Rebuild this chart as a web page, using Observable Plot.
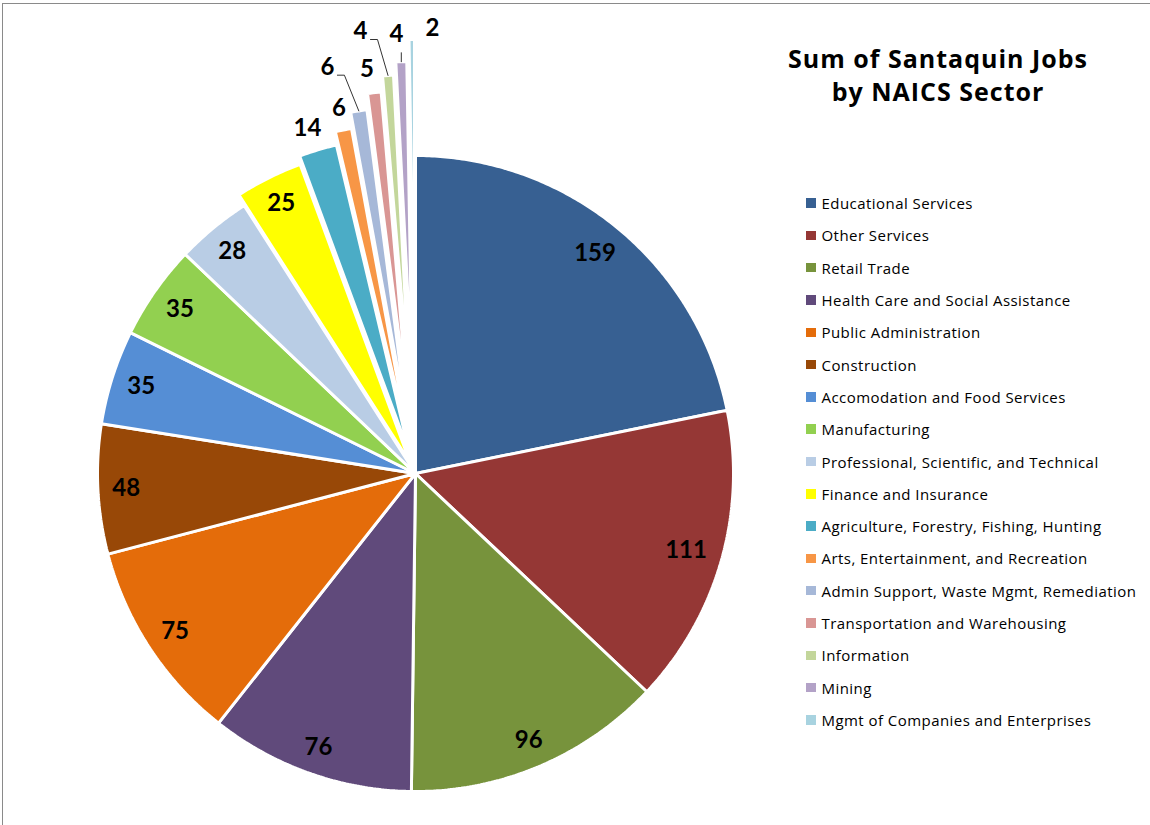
<!DOCTYPE html>
<html>
<head>
<meta charset="utf-8">
<script src="https://cdn.jsdelivr.net/npm/d3@7"></script>
<script src="https://cdn.jsdelivr.net/npm/@observablehq/plot@0.6"></script>
<style>
  html, body { margin: 0; padding: 0; background: #fff; overflow: hidden; }
  #wrap { position: relative; width: 1150px; height: 825px; overflow: hidden; font-family: Lato, "Open Sans", sans-serif; }
  #frame { position: absolute; left: 2px; top: 3px; width: 3000px; height: 3000px;
           border-top: 1.5px solid #8a8a8a; border-left: 1.5px solid #8a8a8a; box-sizing: border-box; }
  #chart { position: absolute; left: 0; top: 0; }
  #title { position: absolute; left: 738px; width: 400px; top: 42px; text-align: center;
           font-family: "Open Sans", sans-serif; letter-spacing: 1px;
           font-weight: 700; font-size: 25px; line-height: 33px; color: #000; }
  #legend { position: absolute; left: 806px; top: 187px; font-family: "Open Sans", sans-serif; }
  .item { display: flex; align-items: center; height: 32.31px; font-size: 15px; letter-spacing: 0.45px; color: #000; white-space: nowrap; }
  .sw { width: 9.5px; height: 9.5px; margin-right: 6px; flex: none; }
</style>
</head>
<body>
<div id="wrap">
  <div id="frame"></div>
  <div id="chart"></div>
  <div id="title">Sum of Santaquin Jobs<br>by NAICS Sector</div>
  <div id="legend"></div>
</div>
<script>
// ---- data ----
const sectors = [
  "Educational Services",
  "Other Services",
  "Retail Trade",
  "Health Care and Social Assistance",
  "Public Administration",
  "Construction",
  "Accomodation and Food Services",
  "Manufacturing",
  "Professional, Scientific, and Technical",
  "Finance and Insurance",
  "Agriculture, Forestry, Fishing, Hunting",
  "Arts, Entertainment, and Recreation",
  "Admin Support, Waste Mgmt, Remediation",
  "Transportation and Warehousing",
  "Information",
  "Mining",
  "Mgmt of Companies and Enterprises"
];
const jobs = [159, 111, 96, 76, 75, 48, 35, 35, 28, 25, 14, 6, 6, 5, 4, 4, 2];
const colors = [
  "#376092", "#953735", "#77933C", "#604A7B", "#E46C0A", "#984807", "#558ED5",
  "#92D050", "#B9CDE5", "#FFFF00", "#4BACC6", "#F79646", "#A6B8D8", "#D99694",
  "#C3D69B", "#B3A2C7", "#A8D3E0"
];

// ---- styling (explosion of slices in px, label nudges in px, leader flags) ----
const explodePx = [0, 0, 0, 0, 0, 0, 0, 0, 0, 12, 20, 33, 49, 65, 81, 94, 116];
const labelNudge = {10: [-4, -1], 13: [-5, -2], 12: [-28, -22], 14: [-26, -22], 15: [-4, -5], 16: [21, 11]};
const leaderSlices = [12, 14, 15];

// ---- layout ----
const W = 1150, H = 825;
const R = 318, cx = 415, cy = 473; // pie radius & center in px
const unit = 1 / R;

const pie = d3.pie().sort(null).value(d => d)(jobs);

const slicePts = [];
const labels = [];
const leaders = [];
pie.forEach((p, i) => {
  const a0 = p.startAngle, a1 = p.endAngle, m = (a0 + a1) / 2;
  const o = explodePx[i] * unit;
  const ox = o * Math.sin(m), oy = o * Math.cos(m);
  const n = Math.max(2, Math.ceil((a1 - a0) / (Math.PI / 360)));
  slicePts.push({sector: sectors[i], x: ox, y: oy});
  for (let k = 0; k <= n; k++) {
    const a = a0 + (a1 - a0) * k / n;
    slicePts.push({sector: sectors[i], x: ox + Math.sin(a), y: oy + Math.cos(a)});
  }
  const txt = String(jobs[i]);
  let r;
  if (jobs[i] >= 20) {
    const w = 14 * txt.length, h = 18;
    r = (R + explodePx[i] - (14 + Math.abs(Math.sin(m)) * w / 2 + Math.abs(Math.cos(m)) * h / 2)) * unit;
  } else {
    r = (R + explodePx[i] + 22) * unit;
  }
  let lx = r * Math.sin(m), ly = r * Math.cos(m);
  if (labelNudge[i]) { lx += labelNudge[i][0] * unit; ly -= labelNudge[i][1] * unit; }
  labels.push({x: lx, y: ly, text: txt});
  if (leaderSlices.includes(i)) {
    const tr = (R + explodePx[i]) * unit;
    const tx = tr * Math.sin(m), ty = tr * Math.cos(m);
    if (tx - lx > 15 * unit) {
      leaders.push({id: i, x: lx + 10 * unit, y: ly - 8 * unit});
      leaders.push({id: i, x: lx + 17 * unit, y: ly - 8 * unit});
    } else {
      leaders.push({id: i, x: tx, y: ly - 18 * unit});
    }
    leaders.push({id: i, x: tx, y: ty});
  }
});

const chart = Plot.plot({
  width: W,
  height: H,
  margin: 0,
  x: {domain: [-cx * unit, (W - cx) * unit], range: [0, W], axis: null},
  y: {domain: [-(H - cy) * unit, cy * unit], range: [H, 0], axis: null},
  color: {domain: sectors, range: colors},
  style: {background: "transparent", overflow: "visible"},
  marks: [
    Plot.line(slicePts, {x: "x", y: "y", z: "sector", fill: "sector", stroke: "white",
      strokeWidth: 3, strokeLinejoin: "miter", curve: "linear-closed"}),
    Plot.line(leaders, {x: "x", y: "y", z: "id", stroke: "#333", strokeWidth: 1}),
    Plot.text(labels, {x: "x", y: "y", text: "text", fontSize: 24, fontWeight: "bold",
      fill: "#000", fontFamily: "Lato, 'Open Sans', sans-serif"})
  ]
});
document.getElementById("chart").appendChild(chart);

const legend = document.getElementById("legend");
sectors.forEach((s, i) => {
  const item = document.createElement("div");
  item.className = "item";
  const sw = document.createElement("span");
  sw.className = "sw";
  sw.style.background = colors[i];
  const t = document.createElement("span");
  t.textContent = s;
  item.appendChild(sw);
  item.appendChild(t);
  legend.appendChild(item);
});
</script>
</body>
</html>
